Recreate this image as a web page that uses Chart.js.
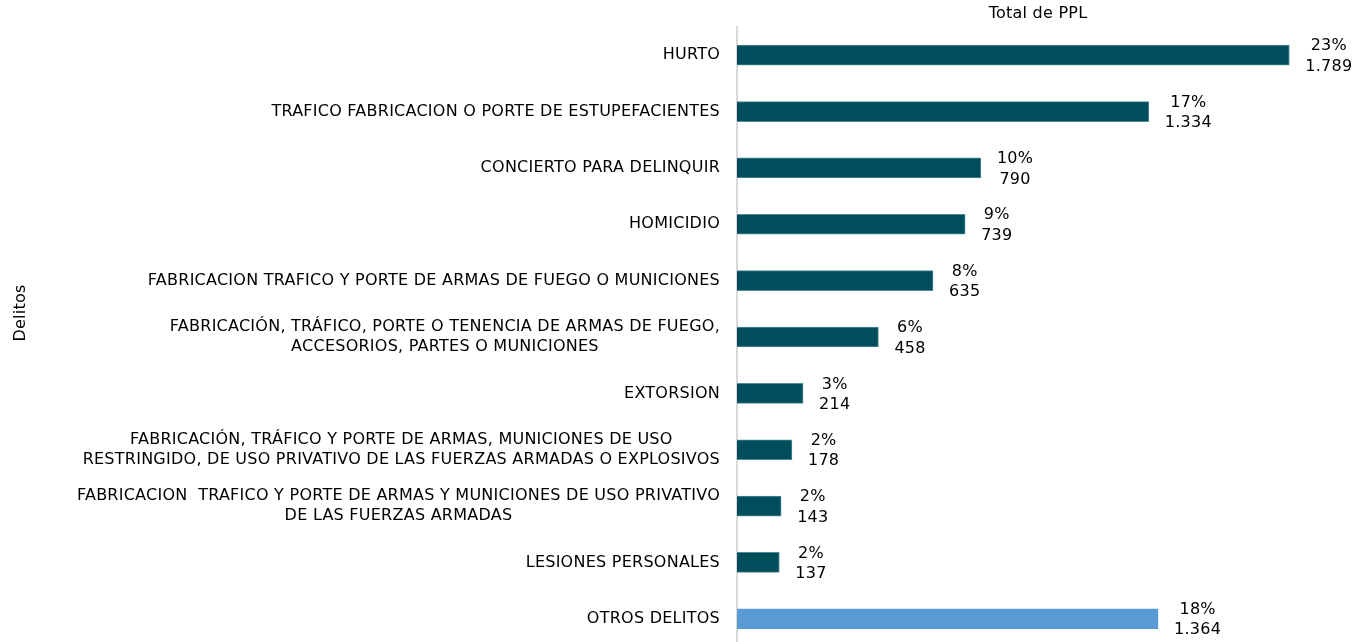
<!DOCTYPE html>
<html>
<head>
<meta charset="utf-8">
<script src="https://cdn.jsdelivr.net/npm/chart.js@4/dist/chart.umd.min.js"></script>
<style>
html,body{margin:0;padding:0;background:#fff;overflow:hidden;}
#wrap{position:relative;width:1356px;height:642px;overflow:hidden;}
#box{position:absolute;left:0;top:0;width:1356px;height:647px;}
</style>
</head>
<body>
<div id="wrap"><div id="box"><canvas id="c"></canvas></div></div>
<script>
const categories = [
  ["HURTO"],
  ["TRAFICO FABRICACION O PORTE DE ESTUPEFACIENTES"],
  ["CONCIERTO PARA DELINQUIR"],
  ["HOMICIDIO"],
  ["FABRICACION TRAFICO Y PORTE DE ARMAS DE FUEGO O MUNICIONES"],
  ["FABRICACIÓN, TRÁFICO, PORTE O TENENCIA DE ARMAS DE FUEGO,", "ACCESORIOS, PARTES O MUNICIONES"],
  ["EXTORSION"],
  ["FABRICACIÓN, TRÁFICO Y PORTE DE ARMAS, MUNICIONES DE USO", "RESTRINGIDO, DE USO PRIVATIVO DE LAS FUERZAS ARMADAS O EXPLOSIVOS"],
  ["FABRICACION  TRAFICO Y PORTE DE ARMAS Y MUNICIONES DE USO PRIVATIVO", "DE LAS FUERZAS ARMADAS"],
  ["LESIONES PERSONALES"],
  ["OTROS DELITOS"]
];
const totals = [1789, 1334, 790, 739, 635, 458, 214, 178, 143, 137, 1364];
const percents = [23, 17, 10, 9, 8, 6, 3, 2, 2, 2, 18];
const seriesName = "Total de PPL";
const axisTitleY = "Delitos";

const FONT = "DejaVu Sans";
const FS = 16;
const LS = "0.25px";
const dark = "#004d5b";
const light = "#5b9bd5";
const barColors = categories.map((c, i) => i === categories.length - 1 ? light : dark);
const borderColors = categories.map((c, i) => i === categories.length - 1 ? light : "#4f8a98");

function fmt(n){ return n.toString().replace(/\B(?=(\d{3})+(?!\d))/g, "."); }

const labelPlugin = {
  id: 'customLabels',
  afterDatasetsDraw(chart){
    const ctx = chart.ctx;
    const meta = chart.getDatasetMeta(0);
    ctx.save();
    ctx.font = FS + "px '" + FONT + "'";
    ctx.letterSpacing = LS;
    ctx.fillStyle = "#000";
    ctx.textBaseline = "middle";
    ctx.textAlign = "center";
    meta.data.forEach((el, i) => {
      const l1 = percents[i] + "%";
      const l2 = fmt(totals[i]);
      const w = Math.max(ctx.measureText(l1).width, ctx.measureText(l2).width);
      const cx = el.x + 16 + w / 2;
      ctx.fillText(l1, cx, el.y - 9);
      ctx.fillText(l2, cx, el.y + 11.5);
    });
    ctx.restore();
  },
  afterDraw(chart){
    const ctx = chart.ctx;
    const ys = chart.scales.y;
    const xs = chart.scales.x;
    ctx.save();
    ctx.font = FS + "px '" + FONT + "'";
    ctx.letterSpacing = LS;
    ctx.fillStyle = "#000";
    ctx.textBaseline = "middle";
    ctx.textAlign = "center";
    const right = ys.right - 17;
    categories.forEach((lines, i) => {
      const y = ys.getPixelForTick(i);
      const w = Math.max(...lines.map(t => ctx.measureText(t).width));
      const cx = right - w / 2;
      const lh = 19.5;
      const y0 = y - (lines.length - 1) * lh / 2;
      lines.forEach((t, k) => ctx.fillText(t, cx, y0 + k * lh));
    });
    ctx.fillText(seriesName, (xs.left + xs.right) / 2, 14);
    ctx.translate(21, 313);
    ctx.rotate(-Math.PI / 2);
    ctx.fillText(axisTitleY, 0, 0);
    ctx.restore();
  }
};

new Chart(document.getElementById('c'), {
  type: 'bar',
  data: {
    labels: categories,
    datasets: [{
      label: seriesName,
      data: totals,
      backgroundColor: barColors,
      borderColor: borderColors,
      borderWidth: 1,
      barThickness: 20
    }]
  },
  options: {
    indexAxis: 'y',
    responsive: true,
    maintainAspectRatio: false,
    animation: false,
    layout: { padding: { left: 0, right: 17, top: 0, bottom: 0 } },
    plugins: { legend: { display: false }, tooltip: { enabled: false } },
    scales: {
      x: {
        position: 'top',
        min: 0,
        max: 1950,
        grid: { display: false },
        border: { display: false },
        ticks: { display: false },
        afterFit(s){ s.height = 27; }
      },
      y: {
        grid: { display: false },
        border: { display: true, color: '#d9d9d9', width: 2 },
        ticks: { display: false },
        afterFit(s){ s.width = 737; }
      }
    }
  },
  plugins: [labelPlugin]
});
</script>
</body>
</html>
